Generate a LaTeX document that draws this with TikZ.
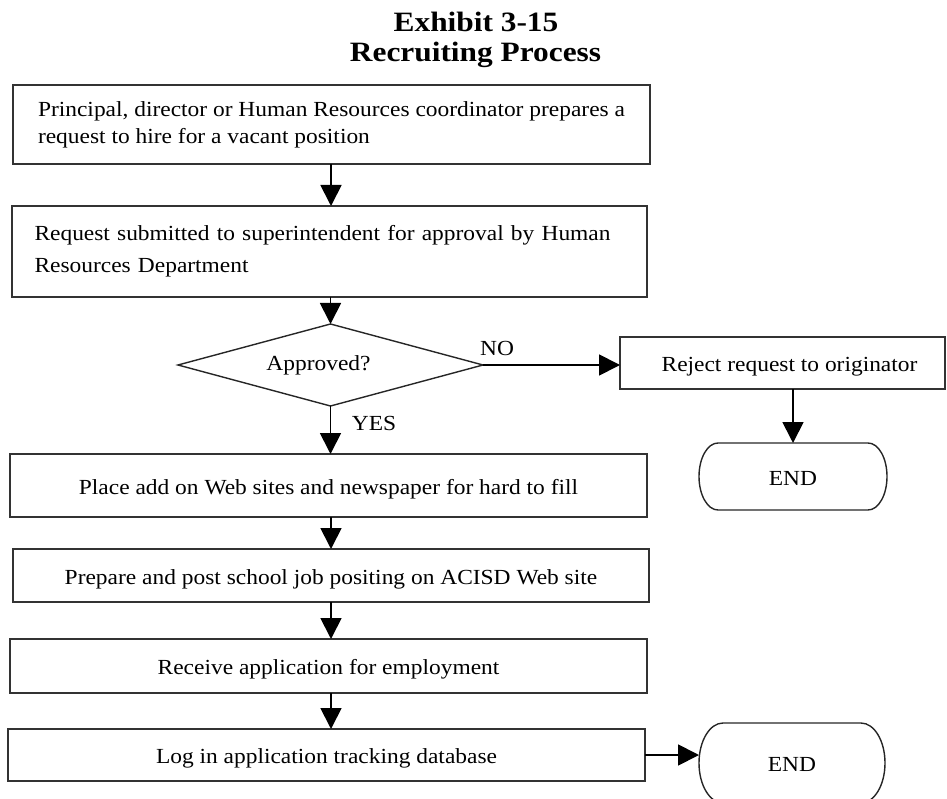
\documentclass[tikz,border=0pt]{standalone}
\usepackage{fontspec}
\setmainfont{Liberation Serif}
\newfontfamily\boxfont[FakeStretch=1.09]{Liberation Serif}
\newfontfamily\headfont[FakeStretch=1.12]{Liberation Serif}
\usetikzlibrary{shapes.geometric,arrows.meta}

\begin{document}
\begin{tikzpicture}[x=1pt,y=-1pt,
  every node/.style={inner sep=0pt, outer sep=0pt},
  stepbox/.style={draw=black!80, line width=1.8pt,
    font=\boxfont\fontsize{21.5}{27}\selectfont},
  oneline/.style={text height=18pt, text depth=1pt},
  decision/.style={diamond, draw=black!85, line width=1.4pt, aspect=3.7,
    font=\boxfont\fontsize{21.5}{26}\selectfont},
  endbox/.style={font=\boxfont\fontsize{21.5}{26}\selectfont},
  endline/.style={draw=black!85, line width=1.4pt},
  flow/.style={line width=1.8pt, -{Triangle[length=21pt,width=21pt]}},
  lbl/.style={font=\boxfont\fontsize{21.5}{26}\selectfont},
  head/.style={font=\headfont\bfseries\fontsize{28}{32}\selectfont, anchor=base}
]
\useasboundingbox (0,0) rectangle (947,799);
\clip (0,0) rectangle (947,799);

% heading
\node[head] (t1) at (476,32) {Exhibit 3-15};
\node[head] (t2) at (475.5,62) {Recruiting Process};

% main column of steps
\node[stepbox, minimum width=637pt, minimum height=79pt, align=left]
  (b1) at (331.5,124.5)
  {Principal, director or Human Resources coordinator prepares a\\request to hire for a vacant position};
\node[stepbox, minimum width=635pt, minimum height=91pt, text width=590pt, align=left,
  font=\boxfont\fontsize{21.5}{32}\selectfont]
  (b2) at (329.5,251.5)
  {Request submitted to superintendent for approval by Human\\Resources Department};
\node[decision, minimum width=305pt, minimum height=82pt] (dec) at (330.5,365)
  {\hspace*{-24pt}\raisebox{-3pt}{Approved?}};
\node[stepbox, oneline, minimum width=637pt, minimum height=63pt] (b3) at (328.5,485.5)
  {Place add on Web sites and newspaper for hard to fill};
\node[stepbox, oneline, minimum width=636pt, minimum height=53pt] (b4) at (331,575.5)
  {Prepare and post school job positing on ACISD Web site};
\node[stepbox, oneline, minimum width=637pt, minimum height=54pt] (b5) at (328.5,666)
  {Receive application for employment};
\node[stepbox, oneline, minimum width=637pt, minimum height=52pt] (b6) at (326.5,755)
  {Log in application tracking database};

% rejection branch
\node[stepbox, oneline, minimum width=325pt, minimum height=52pt] (rej) at (782.5,363)
  {\hspace*{14pt}Reject request to originator};

% terminators
\node[endbox, oneline, minimum width=188pt, minimum height=67pt] (e1) at (793,476.5) {END};
\draw[endline] ([xshift=19pt]e1.north west) -- ([xshift=-19pt]e1.north east)
  arc[start angle=90, end angle=-90, x radius=19pt, y radius=33.5pt]
  -- ([xshift=19pt]e1.south west)
  arc[start angle=270, end angle=90, x radius=19pt, y radius=33.5pt] -- cycle;
\node[endbox, oneline, minimum width=186pt, minimum height=80pt] (e2) at (792,763) {END};
\draw[endline] ([xshift=24pt]e2.north west) -- ([xshift=-24pt]e2.north east)
  arc[start angle=90, end angle=-90, x radius=24pt, y radius=40pt]
  -- ([xshift=24pt]e2.south west)
  arc[start angle=270, end angle=90, x radius=24pt, y radius=40pt] -- cycle;

% branch labels
\node[lbl] (yes) at (374,423) {YES};
\node[lbl] (no) at (497,348) {NO};

% connectors
\coordinate (spine) at (331,0);
\draw[flow] (b1.south -| spine) -- (b2.north -| spine);
\draw[flow] (b2.south -| dec.north) -- (dec.north);
\draw[flow] (dec.south) -- (dec.south |- b3.north);
\draw[flow] (dec.east) -- (dec.east -| rej.west);
\draw[flow] (rej.south -| e1.north) -- (e1.north);
\draw[flow] (b3.south -| spine) -- (b4.north -| spine);
\draw[flow] (b4.south -| spine) -- (b5.north -| spine);
\draw[flow] (b5.south -| spine) -- (b6.north -| spine);
\draw[flow] (b6.east) -- (b6.east -| e2.west);
\end{tikzpicture}
\end{document}
